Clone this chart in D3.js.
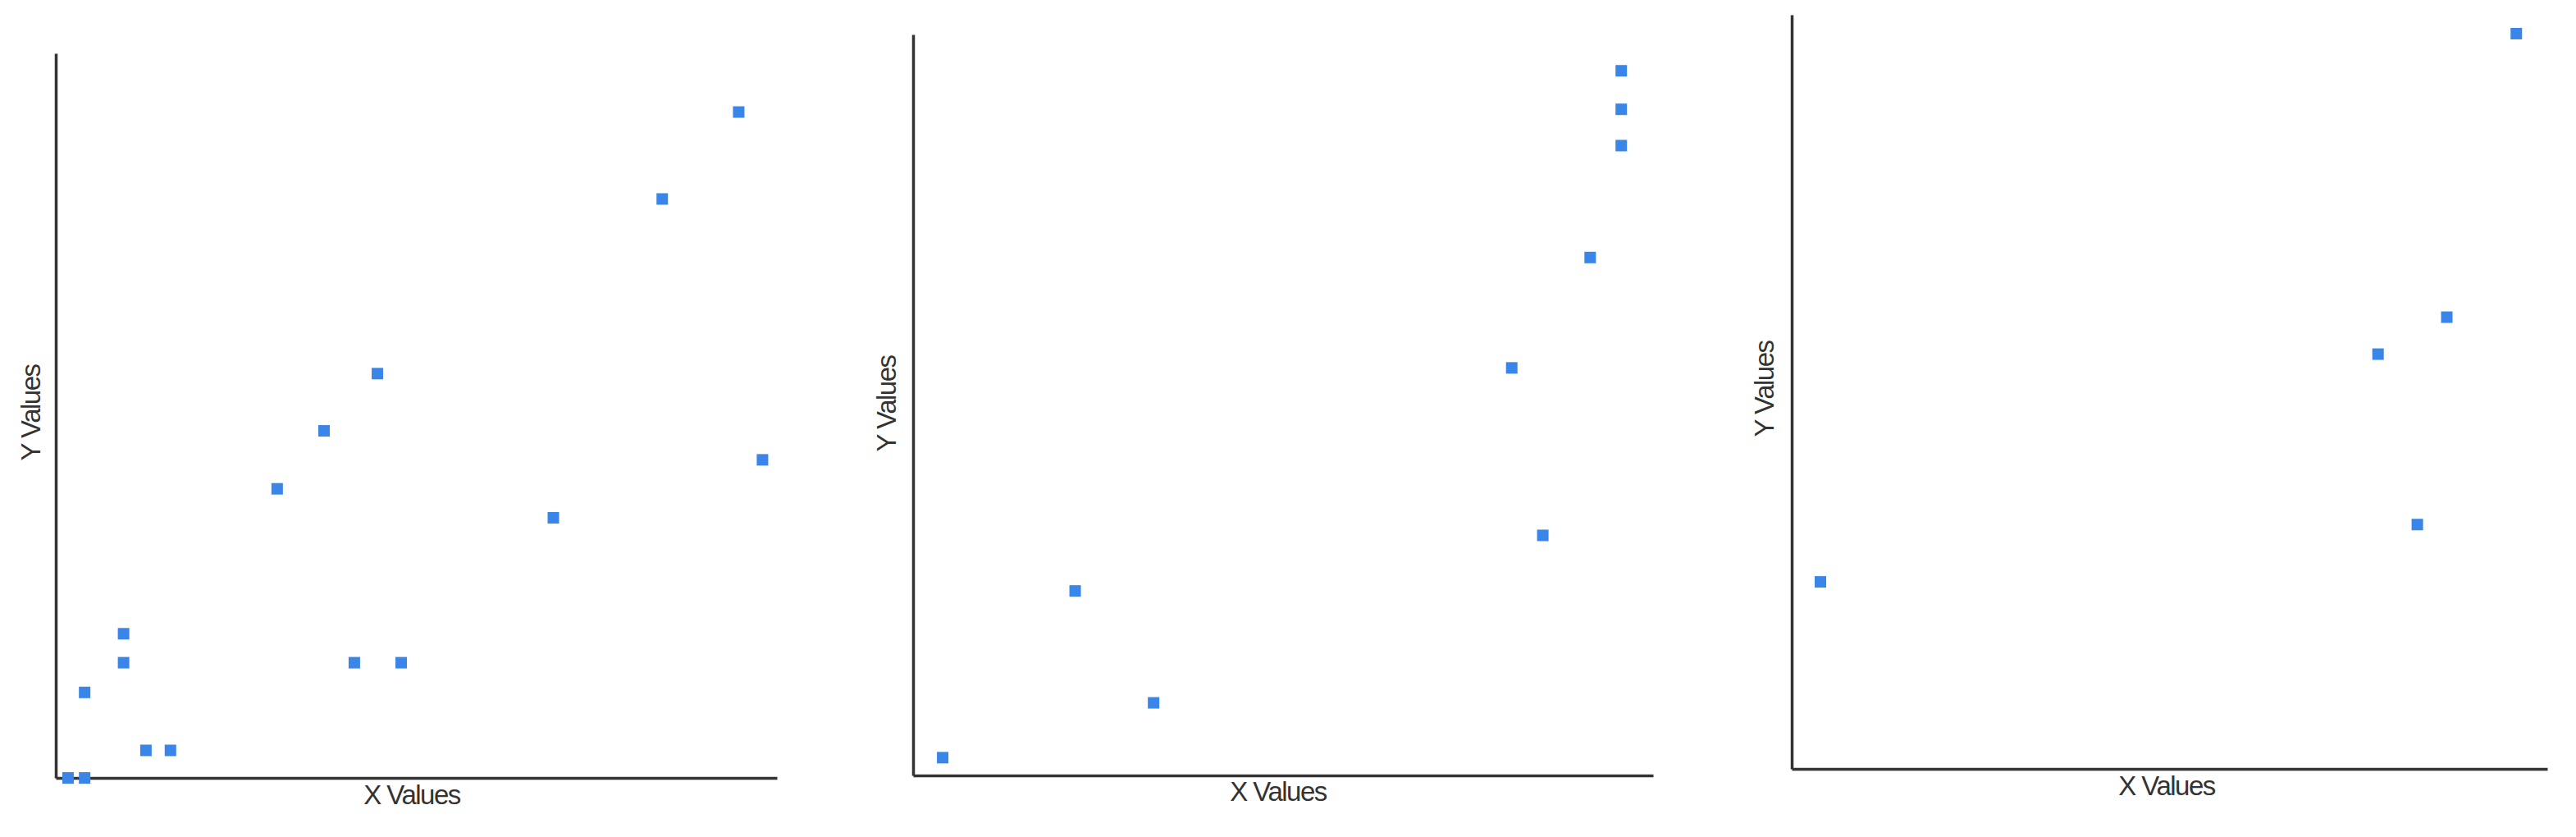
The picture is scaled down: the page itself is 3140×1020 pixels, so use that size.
<!DOCTYPE html>
<html><head><meta charset="utf-8">
<script src="https://cdn.jsdelivr.net/npm/d3@7"></script>
<style>body{margin:0;background:#fff}svg{display:block}</style>
</head><body>
<svg id="c" width="3140" height="1020"></svg>
<script>
const xLabel = "X Values";
const yLabel = "Y Values";
const p1x = [94.7,84.1,44.6,37.2,30.7,98.0,69.0,9.4,9.4,41.4,47.9,4.0,12.5,15.9,1.7,4.0];
const p1y = [91.9,79.9,55.8,47.9,39.9,43.9,35.9,19.9,15.9,15.9,15.9,11.8,3.8,3.8,0,0];
const p2x = [95.7,95.7,95.7,91.5,80.9,85.1,21.9,32.5,4.0];
const p2y = [95.1,89.9,85.0,69.9,55.0,32.4,24.9,9.8,2.4];
const p3x = [95.9,86.7,77.6,82.8,3.8];
const p3y = [97.5,59.9,55.0,32.4,24.8];

const panels = [
  {xs:p1x, ys:p1y, left:68, right:947, top:65, bottom:948, xl:[502,971], yl:[40,503]},
  {xs:p2x, ys:p2y, left:1113, right:2015, top:42, bottom:945, xl:[1558,967], yl:[1083,492]},
  {xs:p3x, ys:p3y, left:2184, right:3105, top:18, bottom:937, xl:[2641,960], yl:[2153,474]}
];
const svg = d3.select("#c");
const S = 14;
panels.forEach(p => {
  const x = d3.scaleLinear().domain([0,100]).range([p.left, p.right]);
  const y = d3.scaleLinear().domain([0,100]).range([p.bottom, p.top]);
  const g = svg.append("g");
  g.append("g").attr("transform",`translate(0,${p.bottom})`)
    .call(d3.axisBottom(x).ticks(0).tickSize(0)).call(a=>a.select(".domain").attr("stroke","#333").attr("stroke-width",3.5));
  g.append("g").attr("transform",`translate(${p.left},0)`)
    .call(d3.axisLeft(y).ticks(0).tickSize(0)).call(a=>a.select(".domain").attr("stroke","#333").attr("stroke-width",3.5));
  g.selectAll("rect.pt").data(p.xs.map((v,i)=>[v,p.ys[i]])).join("rect")
    .attr("class","pt").attr("x",d=>x(d[0])-S/2).attr("y",d=>y(d[1])-S/2)
    .attr("width",S).attr("height",S).attr("fill","#3a86e8");
  g.append("text").attr("x",p.xl[0]).attr("y",p.xl[1]).attr("text-anchor","middle")
    .attr("dominant-baseline","middle").attr("font-family","Liberation Sans, Arial").attr("font-size",33)
    .attr("fill","#333").attr("letter-spacing",-1.5).text(xLabel);
  g.append("text").attr("transform",`translate(${p.yl[0]},${p.yl[1]}) rotate(-90)`).attr("text-anchor","middle")
    .attr("dominant-baseline","middle").attr("font-family","Liberation Sans, Arial").attr("font-size",33)
    .attr("fill","#333").attr("letter-spacing",-1.5).text(yLabel);
});
</script></body></html>
